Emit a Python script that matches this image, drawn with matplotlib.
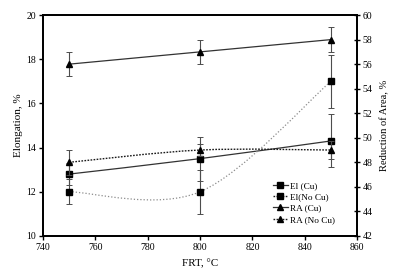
import matplotlib
matplotlib.use('Agg')
import matplotlib.pyplot as plt
from matplotlib.path import Path
from matplotlib.patches import PathPatch
from matplotlib.lines import Line2D
import numpy as np

plt.rcParams['font.family'] = ['Liberation Serif', 'DejaVu Serif']
plt.rcParams['font.size'] = 7

# data
frt = [750, 800, 850]
el_cu = [12.8, 13.5, 14.3]
el_cu_err = [0.5, 1.0, 1.2]
el_nocu = [12.0, 12.0, 17.0]
el_nocu_err = [0.57, 1.0, 1.2]
ra_cu = [56.0, 57.0, 58.0]
ra_cu_err = [1.0, 1.0, 1.05]
ra_nocu = [48.0, 49.0, 49.0]
ra_nocu_err = [1.0, 0.5, 0.7]


def smooth_path(x, y):
    # excel-like smoothed line: cubic bezier through the points
    p = np.column_stack([x, y]).astype(float)
    n = len(p)
    verts = [p[0]]
    codes = [Path.MOVETO]
    for i in range(n - 1):
        prev = p[i - 1] if i > 0 else p[i]
        nxt = p[i + 2] if i + 2 < n else p[i + 1]
        c1 = p[i] + (p[i + 1] - prev) / 6
        c2 = p[i + 1] - (nxt - p[i]) / 6
        verts += [c1, c2, p[i + 1]]
        codes += [Path.CURVE4] * 3
    return Path(verts, codes)


fig = plt.figure(figsize=(3.99, 2.69), dpi=100)
ax = fig.add_axes([0.108, 0.123, 0.787, 0.821])
ax2 = ax.twinx()

solid = dict(color='0.2', lw=0.9, ls='-')
dot_el = dict(color='0.55', lw=0.9, ls=(0, (1, 1.6)))
dot_ra = dict(color='0.1', lw=1.0, ls=(0, (1.2, 1.0)))

ax.add_patch(PathPatch(smooth_path(frt, el_cu), fill=False, **solid))
ax.add_patch(PathPatch(smooth_path(frt, el_nocu), fill=False, **dot_el))
ax2.add_patch(PathPatch(smooth_path(frt, ra_cu), fill=False, **solid))
ax2.add_patch(PathPatch(smooth_path(frt, ra_nocu), fill=False, **dot_ra))

eb = dict(fmt='none', ecolor='0.3', elinewidth=0.8, capsize=2.2, capthick=0.7)
ax.errorbar(frt, el_cu, yerr=el_cu_err, **eb)
ax.errorbar(frt, el_nocu, yerr=el_nocu_err, **eb)
ax2.errorbar(frt, ra_cu, yerr=ra_cu_err, **eb)
ax2.errorbar(frt, ra_nocu, yerr=ra_nocu_err, **eb)

ax.plot(frt, el_cu, 's', color='k', ms=4)
ax.plot(frt, el_nocu, 's', color='k', ms=4)
ax2.plot(frt, ra_cu, '^', color='k', ms=4)
ax2.plot(frt, ra_nocu, '^', color='k', ms=4)

ax.set_xlim(740, 860)
ax.set_ylim(10, 20)
ax2.set_ylim(42, 60)
ax.set_xticks(np.arange(740, 861, 20))
ax.set_yticks(np.arange(10, 21, 2))
ax2.set_yticks(np.arange(42, 61, 2))

for a in (ax, ax2):
    for s in a.spines.values():
        s.set_linewidth(1.3)
ax.tick_params(axis='both', direction='out', length=3, width=1, pad=2, labelsize=7)
ax2.tick_params(axis='y', direction='inout', length=4, width=1, pad=2, labelsize=7)

ax.set_xlabel('FRT, °C', fontsize=8, labelpad=5)
ax.set_ylabel('Elongation, %', fontsize=8, labelpad=2)
ax2.set_ylabel('Reduction of Area, %', fontsize=7.6, labelpad=5)

handles = [
    Line2D([], [], marker='s', ms=3.8, mfc='k', mec='k', **solid),
    Line2D([], [], marker='s', ms=3.8, mfc='k', mec='k', **dot_ra),
    Line2D([], [], marker='^', ms=3.8, mfc='k', mec='k', **solid),
    Line2D([], [], marker='^', ms=3.8, mfc='k', mec='k', **dot_ra),
]
labels = ['El (Cu)', 'El(No Cu)', 'RA (Cu)', 'RA (No Cu)']
ax2.legend(handles, labels, loc='lower left', bbox_to_anchor=(0.732, 0.055),
           frameon=False, fontsize=6.7, handlelength=1.6, handletextpad=0.2,
           labelspacing=0.3, borderaxespad=0, borderpad=0)

fig.savefig('out.png', dpi=100)
